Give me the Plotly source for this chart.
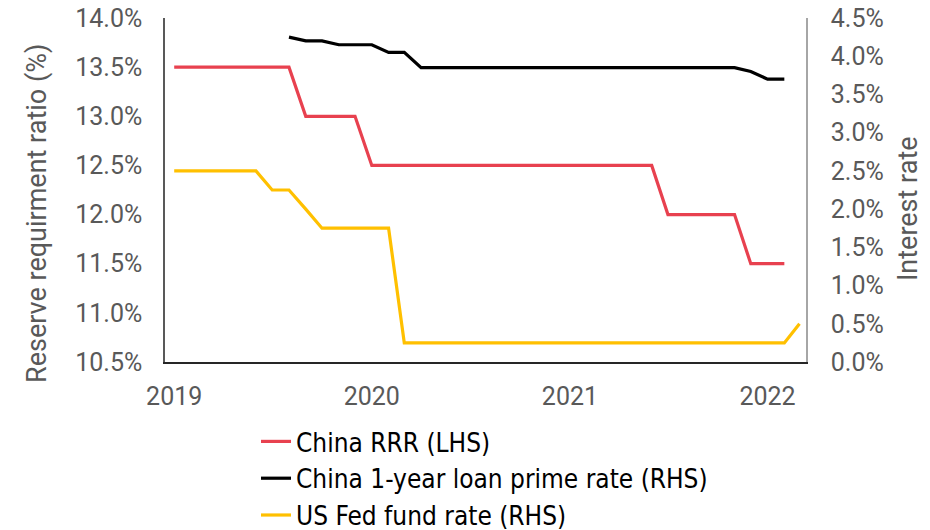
import plotly.graph_objects as go

months = [f"{2019 + i // 12}-{i % 12 + 1:02d}-01" for i in range(39)]  # Jan 2019 .. Mar 2022

rrr_dates = months[0:38]
rrr = [13.5]*8 + [13.0]*4 + [12.5]*18 + [12.0]*5 + [11.5]*3

lpr_dates = months[7:38]
lpr = [4.25, 4.20, 4.20, 4.15, 4.15, 4.15, 4.05, 4.05] + [3.85]*20 + [3.80, 3.70, 3.70]

fed_dates = months[0:39]
fed = [2.5]*6 + [2.25, 2.25, 2.0] + [1.75]*5 + [0.25]*24 + [0.5]

x_tickvals = ["2019-01-01", "2020-01-01", "2021-01-01", "2022-01-01"]
x_ticktext = ["2019", "2020", "2021", "2022"]

left_title = "Reserve requirment ratio (%)"
right_title = "Interest rate"

RED = "#E8414F"
BLACK = "#000000"
YELLOW = "#FFC000"
GREY = "#595959"
TICKFONT = dict(family="Roboto", size=25, color=GREY)
TITLEFONT = dict(family="Roboto", size=27, color=GREY)
LEGFONT = dict(family="DejaVu Sans Condensed, DejaVu Sans", size=26, color="#000000")

fig = go.Figure()
fig.add_trace(go.Scatter(x=rrr_dates, y=rrr, name="China RRR (LHS)", mode="lines",
                         line=dict(color=RED, width=3.2), legendgroup="a", yaxis="y"))
fig.add_trace(go.Scatter(x=lpr_dates, y=lpr, name="China 1-year loan prime rate (RHS)", mode="lines",
                         line=dict(color=BLACK, width=3.2), legendgroup="b", yaxis="y2"))
fig.add_trace(go.Scatter(x=fed_dates, y=fed, name="US Fed fund rate (RHS)", mode="lines",
                         line=dict(color=YELLOW, width=3.2), legendgroup="c", yaxis="y2"))

fig.update_layout(
    width=930, height=530,
    margin=dict(l=165, r=124, t=18, b=168, autoexpand=False),
    paper_bgcolor="white", plot_bgcolor="white",
    showlegend=True,
    legend=dict(xref="container", yref="container", x=256/930, y=1 - 418/530,
                xanchor="left", yanchor="top", orientation="v",
                font=LEGFONT, traceorder="grouped", tracegroupgap=0,
                bgcolor="rgba(0,0,0,0)"),
    xaxis=dict(type="date", range=["2018-12-15", "2022-03-13"],
               tickvals=x_tickvals, ticktext=x_ticktext,
               showgrid=False, zeroline=False,
               showline=True, linecolor="#262626", linewidth=1.5,
               ticks="outside", ticklen=11, tickcolor="rgba(0,0,0,0)",
               tickfont=TICKFONT),
    yaxis=dict(range=[10.5, 14.0], dtick=0.5, tick0=10.5, tickformat=".1f", ticksuffix="%",
               showgrid=False, zeroline=False,
               showline=True, linecolor="#595959", linewidth=1.5,
               ticks="outside", ticklen=16, tickcolor="rgba(0,0,0,0)",
               tickfont=TICKFONT),
    yaxis2=dict(range=[0, 4.5], dtick=0.5, tick0=0, tickformat=".1f", ticksuffix="%",
                overlaying="y", side="right",
                showgrid=False, zeroline=False,
                showline=True, linecolor="#A6A6A6", linewidth=1.5,
                ticks="outside", ticklen=18, tickcolor="rgba(0,0,0,0)",
                tickfont=TICKFONT),
    annotations=[
        dict(text=left_title, textangle=-90, xref="paper", yref="paper",
             x=(37 - 165) / 641, y=(362 - 214) / 344, xanchor="center", yanchor="middle",
             showarrow=False, font=TITLEFONT),
        dict(text=right_title, textangle=-90, xref="paper", yref="paper",
             x=(908 - 165) / 641, y=(362 - 209) / 344, xanchor="center", yanchor="middle",
             showarrow=False, font=TITLEFONT),
    ],
)

fig.write_html("out.html")
